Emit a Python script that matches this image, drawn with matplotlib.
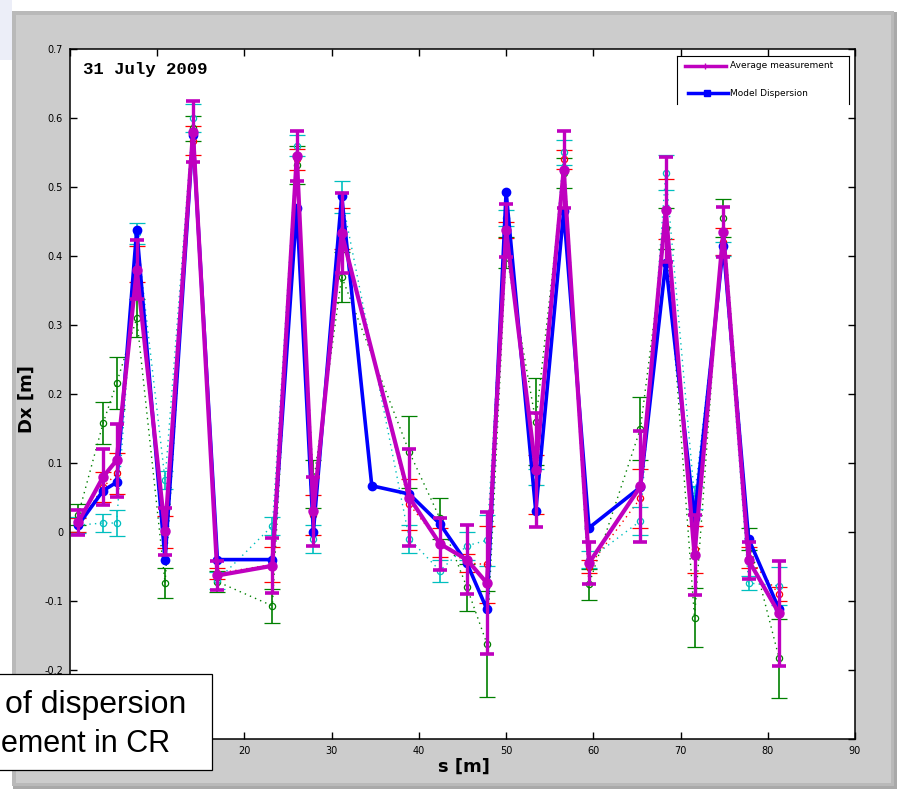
import matplotlib
matplotlib.use("Agg")
import matplotlib.pyplot as plt
from matplotlib.patches import Rectangle
from matplotlib.lines import Line2D

# ---------------- data ----------------
s_bpm = [0.95, 3.8, 5.35, 7.65, 10.9, 14.1, 16.9, 23.2, 26.0, 27.9, 31.15,
         38.9, 42.4, 45.5, 47.8, 50.0, 53.4, 56.6, 59.5, 65.4, 68.3, 71.6,
         74.9, 77.8, 81.3]

# model dispersion (has one extra point at s = 34.6)
s_model = [0.95, 3.8, 5.35, 7.65, 10.9, 14.1, 16.9, 23.2, 26.0, 27.9, 31.15,
           34.6, 38.9, 42.4, 45.5, 47.8, 50.0, 53.4, 56.6, 59.5, 65.4, 68.3,
           71.6, 74.9, 77.8, 81.3]
dx_model = [0.01, 0.06, 0.072, 0.438, -0.04, 0.575, -0.04, -0.04, 0.47, 0.0,
            0.487, 0.067, 0.055, 0.012, -0.045, -0.112, 0.493, 0.03, 0.465,
            0.006, 0.065, 0.39, 0.02, 0.415, -0.01, -0.112]

avg_mean = [0.014, 0.08, 0.104, 0.38, 0.001, 0.58, -0.063, -0.049, 0.545,
            0.03, 0.433, 0.05, -0.017, -0.04, -0.074, 0.437, 0.09, 0.525,
            -0.045, 0.066, 0.467, -0.033, 0.435, -0.041, -0.118]
avg_err = [0.018, 0.041, 0.053, 0.043, 0.034, 0.044, 0.021, 0.04, 0.036,
           0.05, 0.058, 0.07, 0.038, 0.05, 0.103, 0.038, 0.083, 0.056, 0.03,
           0.081, 0.076, 0.058, 0.036, 0.027, 0.076]

meas1_mean = [0.025, 0.158, 0.216, 0.31, -0.074, 0.585, -0.072, -0.107, 0.532,
              0.07, 0.37, 0.116, 0.02, -0.08, -0.162, 0.405, 0.16, 0.52,
              -0.076, 0.15, 0.44, -0.124, 0.455, -0.01, -0.183]
meas1_err = [0.015, 0.031, 0.038, 0.027, 0.022, 0.018, 0.015, 0.025, 0.028,
             0.035, 0.036, 0.052, 0.03, 0.034, 0.077, 0.023, 0.063, 0.022,
             0.022, 0.046, 0.03, 0.043, 0.027, 0.016, 0.057]

meas2_mean = [0.01, 0.013, 0.013, 0.433, 0.075, 0.6, -0.07, 0.009, 0.56,
              -0.01, 0.485, -0.01, -0.056, -0.02, -0.012, 0.455, 0.08, 0.55,
              -0.04, 0.016, 0.521, 0.05, 0.41, -0.074, -0.078]
meas2_err = [0.012, 0.013, 0.019, 0.015, 0.013, 0.021, 0.012, 0.013, 0.015,
             0.02, 0.023, 0.02, 0.016, 0.02, 0.037, 0.012, 0.012, 0.018,
             0.012, 0.02, 0.026, 0.017, 0.01, 0.01, 0.028]

meas3_mean = [0.01, 0.065, 0.085, 0.389, 0.0, 0.567, -0.06, -0.047, 0.54,
              0.025, 0.44, 0.04, -0.015, -0.045, -0.047, 0.438, 0.069, 0.54,
              -0.05, 0.049, 0.468, -0.025, 0.421, -0.037, -0.09]
meas3_err = [0.01, 0.022, 0.03, 0.026, 0.023, 0.021, 0.008, 0.025, 0.015,
             0.029, 0.03, 0.037, 0.021, 0.013, 0.056, 0.012, 0.043, 0.014,
             0.01, 0.043, 0.043, 0.034, 0.019, 0.015, 0.01]

x_ticks = [0, 10, 20, 30, 40, 50, 60, 70, 80, 90]
# labels for 0 and 10 are hidden behind the slide text box in the reference
x_ticklabels = ["", "", "20", "30", "40", "50", "60", "70", "80", "90"]
y_ticks = [-0.3, -0.2, -0.1, 0.0, 0.1, 0.2, 0.3, 0.4, 0.5, 0.6, 0.7]
y_ticklabels = ["", "-0.2", "-0.1", "0", "0.1", "0.2", "0.3", "0.4",
                "0.5", "0.6", "0.7"]

# ---------------- figure ----------------
W, H = 903, 793
fig = plt.figure(figsize=(W / 100, H / 100), dpi=100)
fig.patch.set_facecolor("white")


def fr(x0, y0, x1, y1, **kw):
    """rectangle in pixel coords (top-left origin)"""
    r = Rectangle((x0 / W, 1 - y1 / H), (x1 - x0) / W, (y1 - y0) / H,
                  transform=fig.transFigure, **kw)
    fig.add_artist(r)
    return r


# faint slide background at top-left
fr(0, 0, 12, 60, facecolor="#eceef8", edgecolor="none", zorder=0)
# window shadow / border / body
fr(13, 12, 897, 789, facecolor="#a9a9a9", edgecolor="none", zorder=0)
fr(12, 11, 894, 786, facecolor="#b9b9b9", edgecolor="none", zorder=0)
fr(16, 15, 891, 783, facecolor="#cccccc", edgecolor="none", zorder=0)

ax = fig.add_axes([70 / W, 1 - 739 / H, 785 / W, 690 / H])
ax.set_facecolor("white")
ax.set_xlim(0, 90)
ax.set_ylim(-0.3, 0.7)

green = (0, 0.5, 0)
cyan = (0, 0.75, 0.75)
red = (1, 0, 0)
blue = (0, 0, 1)
mag = (0.75, 0, 0.75)

for mean, err, col in [(meas1_mean, meas1_err, green),
                       (meas3_mean, meas3_err, red),
                       (meas2_mean, meas2_err, cyan)]:
    ax.errorbar(s_bpm, mean, yerr=err, fmt="o", color=col, ms=4.5,
                mfc="none", mew=0.9, elinewidth=1.2, capsize=5.5,
                capthick=1.5, zorder=2)
    ax.plot(s_bpm, mean, linestyle=(0, (1, 3)), color=col, lw=1.0, zorder=2)

ax.plot(s_model, dx_model, "-o", color=blue, lw=2.6, ms=6, zorder=3)
ax.errorbar(s_bpm, avg_mean, yerr=avg_err, fmt="-o", color=mag, ms=6.5,
            lw=3.0, elinewidth=2.4, capsize=5, capthick=2.6, zorder=4)

ax.set_xticks(x_ticks)
ax.set_xticklabels(x_ticklabels)
ax.set_yticks(y_ticks)
ax.set_yticklabels(y_ticklabels)
ax.tick_params(direction="in", length=5, width=1, top=True, right=True,
               labelsize=7, pad=5)
for sp in ax.spines.values():
    sp.set_linewidth(1.1)

# axis labels
fig.text(27 / W, 1 - 399 / H, "Dx [m]", rotation=90, fontsize=13,
         fontweight="bold", ha="center", va="center")
fig.text(464 / W, 1 - 767 / H, "s [m]", fontsize=13, fontweight="bold",
         ha="center", va="center")

# date annotation
fig.text(83 / W, 1 - 62 / H, "31 July 2009", family="Liberation Mono",
         fontweight="bold", fontsize=12.5, ha="left", va="top")

# legend (drawn manually, bottom edge clipped as in the window)
lx0, lx1, ly0, ly1 = 677, 849, 56, 104
for (xa, ya, xb, yb) in [(lx0, ly1, lx0, ly0), (lx0, ly0, lx1, ly0),
                         (lx1, ly0, lx1, ly1)]:
    fig.add_artist(Line2D([xa / W, xb / W], [1 - ya / H, 1 - yb / H],
                          transform=fig.transFigure, color="black", lw=0.8,
                          zorder=6))
fr(lx0 + 0.5, ly0 + 0.5, lx1 - 0.5, ly1, facecolor="white",
   edgecolor="none", zorder=5)
fig.add_artist(Line2D([685 / W, 705 / W, 726 / W],
                      [1 - 66 / H, 1 - 66 / H, 1 - 66 / H],
                      transform=fig.transFigure, color=mag, lw=2.5,
                      marker="+", markevery=[1], ms=5, zorder=7))
fig.add_artist(Line2D([688 / W, 707 / W, 728 / W],
                      [1 - 93 / H, 1 - 93 / H, 1 - 93 / H],
                      transform=fig.transFigure, color=blue, lw=2.5,
                      marker="s", markevery=[1], ms=5, zorder=7))
fig.text(730 / W, 1 - 66 / H, "Average measurement", fontsize=6.5,
         ha="left", va="center", zorder=7)
fig.text(730 / W, 1 - 93 / H, "Model Dispersion", fontsize=6.5,
         ha="left", va="center", zorder=7)

# overlaid slide text box
fr(-2, 674, 212, 770, facecolor="white", edgecolor="black", lw=0.9,
   zorder=10)
fig.text(5 / W, 1 - 713 / H, "of dispersion", family="Liberation Sans",
         fontsize=23, ha="left", va="baseline", zorder=11)
fig.text(1 / W, 1 - 752 / H, "ement in CR", family="Liberation Sans",
         fontsize=22, ha="left", va="baseline", zorder=11)

fig.savefig("out.png", dpi=100)
